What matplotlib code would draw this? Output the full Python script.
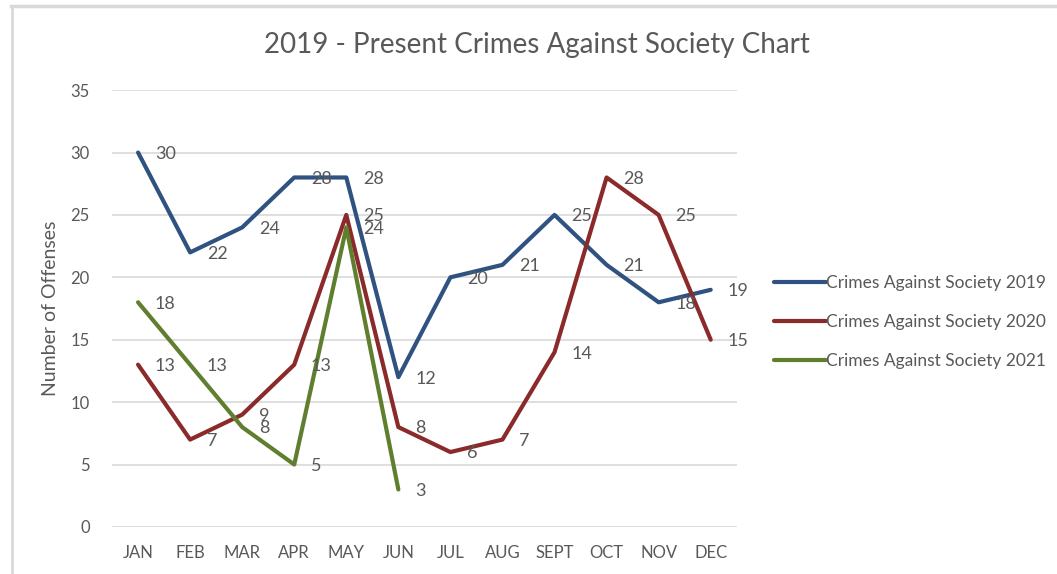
from matplotlib import pyplot as plt
from matplotlib.lines import Line2D

months = ['JAN', 'FEB', 'MAR', 'APR', 'MAY', 'JUN', 'JUL', 'AUG', 'SEPT', 'OCT', 'NOV', 'DEC']
crimes_2019 = [30, 22, 24, 28, 28, 12, 20, 21, 25, 21, 18, 19]
crimes_2020 = [13, 7, 9, 13, 25, 8, 6, 7, 14, 28, 25, 15]
crimes_2021 = [18, 13, 8, 5, 24, 3]

series = [
    ('Crimes Against Society 2019', crimes_2019, '#2f5281'),
    ('Crimes Against Society 2020', crimes_2020, '#8a2a2a'),
    ('Crimes Against Society 2021', crimes_2021, '#5f7f2f'),
]

text_color = '#595959'
plt.rcParams['font.family'] = ['Lato', 'DejaVu Sans']

fig = plt.figure(figsize=(10.57, 5.74), dpi=100)
ax = fig.add_axes([0.106, 0.082, 0.591, 0.761])

x = list(range(len(months)))
for label, values, color in series:
    xs = x[:len(values)]
    ax.plot(xs, values, color=color, lw=3, label=label, solid_capstyle='round', zorder=3)
    for xi, v in zip(xs, values):
        ax.annotate(str(v), (xi, v), xytext=(12, -1), textcoords='offset points',
                    ha='left', va='center', fontsize=13, color=text_color, zorder=4)

ax.set_xlim(-0.5, 11.5)
ax.set_ylim(0, 35)
ax.set_yticks(range(0, 36, 5))
ax.set_xticks(x)
ax.set_xticklabels(months)
ax.tick_params(length=0, labelsize=12, colors=text_color, pad=13)
ax.tick_params(axis='y', pad=16)
ax.grid(axis='y', color='#d9d9d9', lw=1.2)
ax.set_axisbelow(True)
for side in ax.spines.values():
    side.set_visible(False)

ax.set_ylabel('Number of Offenses', fontsize=14, color=text_color, labelpad=8)

fig.text(0.508, 0.922, '2019 - Present Crimes Against Society Chart',
         ha='center', va='center', fontsize=20, color=text_color)

fig.legend(loc='center left', bbox_to_anchor=(0.724, 0.439), frameon=False,
           borderpad=0, handlelength=3.0, handletextpad=0.0, labelspacing=1.3,
           fontsize=12.5, labelcolor=text_color)

# chart frame
fig.add_artist(Line2D([0.01, 1.0], [0.99, 0.99], transform=fig.transFigure,
                      color='#d9d9d9', lw=2.5))
fig.add_artist(Line2D([0.011, 0.011], [0.0, 0.99], transform=fig.transFigure,
                      color='#d9d9d9', lw=2))

fig.savefig('out.png', dpi=100)
